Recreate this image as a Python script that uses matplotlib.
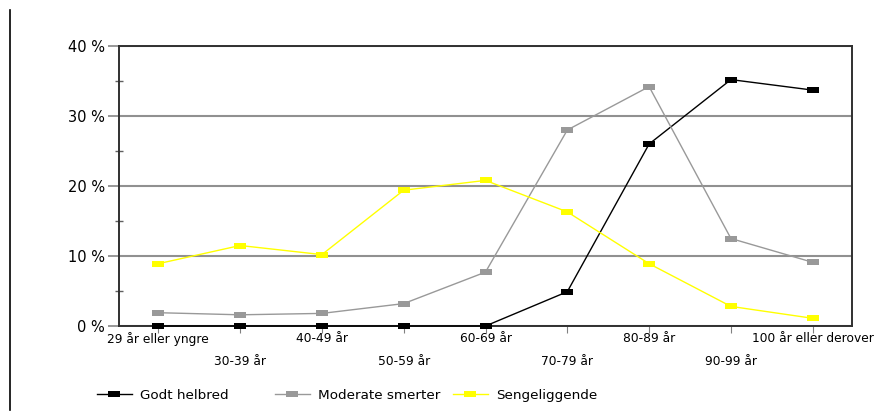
import matplotlib
matplotlib.use("Agg")
import matplotlib.pyplot as plt
from matplotlib.path import Path
from matplotlib.lines import Line2D
import numpy as np

categories = ["29 år eller yngre", "30-39 år", "40-49 år", "50-59 år", "60-69 år",
              "70-79 år", "80-89 år", "90-99 år", "100 år eller derover"]
godt_helbred = [0.0, 0.0, 0.0, 0.0, 0.0, 4.9, 26.0, 35.2, 33.7]
moderate_smerter = [1.9, 1.6, 1.8, 3.2, 7.7, 28.0, 34.2, 12.5, 9.1]
sengeliggende = [8.9, 11.5, 10.2, 19.4, 20.8, 16.3, 8.9, 2.8, 1.1]
series_names = ["Godt helbred", "Moderate smerter", "Sengeliggende"]
series_colors = ["#000000", "#999999", "#ffff00"]
yticks = [0, 10, 20, 30, 40]
ytick_labels = ["0 %", "10 %", "20 %", "30 %", "40 %"]

rect = Path([(-1, -0.5), (1, -0.5), (1, 0.5), (-1, 0.5), (-1, -0.5)],
            [Path.MOVETO, Path.LINETO, Path.LINETO, Path.LINETO, Path.CLOSEPOLY])

fig = plt.figure(figsize=(8.94, 4.19), dpi=100)
ax = fig.add_axes([119/894, 1-326/419, (852-119)/894, (326-46)/419])

x = np.arange(len(categories))
handles = []
for vals, name, col in zip([godt_helbred, moderate_smerter, sengeliggende], series_names, series_colors):
    h, = ax.plot(x, vals, color=col, lw=1.0, marker=rect, markersize=9,
                 markeredgewidth=0, markerfacecolor=col, label=name, clip_on=False, zorder=3)
    handles.append(h)

ax.set_xlim(-0.48, 8.48)
ax.set_ylim(0, 40)
ax.set_yticks(yticks)
ax.set_yticklabels(ytick_labels, fontsize=10.5)
ax.set_yticks([5, 15, 25, 35], minor=True)
ax.tick_params(axis='y', which='major', length=8, width=1.3, color='#909090', pad=2)
ax.tick_params(axis='y', which='minor', direction='inout', length=6, width=1.0, color='#606060')
ax.grid(axis='y', which='major', color='#909090', lw=1.5, zorder=1)
ax.set_axisbelow(True)

ax.set_xticks(x)
ax.set_xticklabels([])
ax.tick_params(axis='x', which='major', length=5, width=0.8, color='#808080')
for i, lab in enumerate(categories):
    yoff = -0.022 if i % 2 == 0 else -0.104
    ax.text(i, yoff, lab, transform=ax.get_xaxis_transform(), ha='center', va='top',
            fontsize=8.8)

for s in ax.spines.values():
    s.set_color('#303030')
    s.set_linewidth(1.4)

# legend entries in fixed-width columns
col_x = [102, 280, 458]
for h, cx in zip(handles, col_x):
    fig.legend(handles=[h], loc='center left', bbox_to_anchor=(cx/894 - 0.006, 1-395/419),
               frameon=False, fontsize=9.7, handlelength=2.6, handletextpad=0.6,
               borderpad=0, borderaxespad=0)

fig.add_artist(Line2D([10/894, 10/894], [1-10/419, 1-410/419], color='black', lw=1.2,
                      transform=fig.transFigure))

fig.savefig("out.png", dpi=100)
